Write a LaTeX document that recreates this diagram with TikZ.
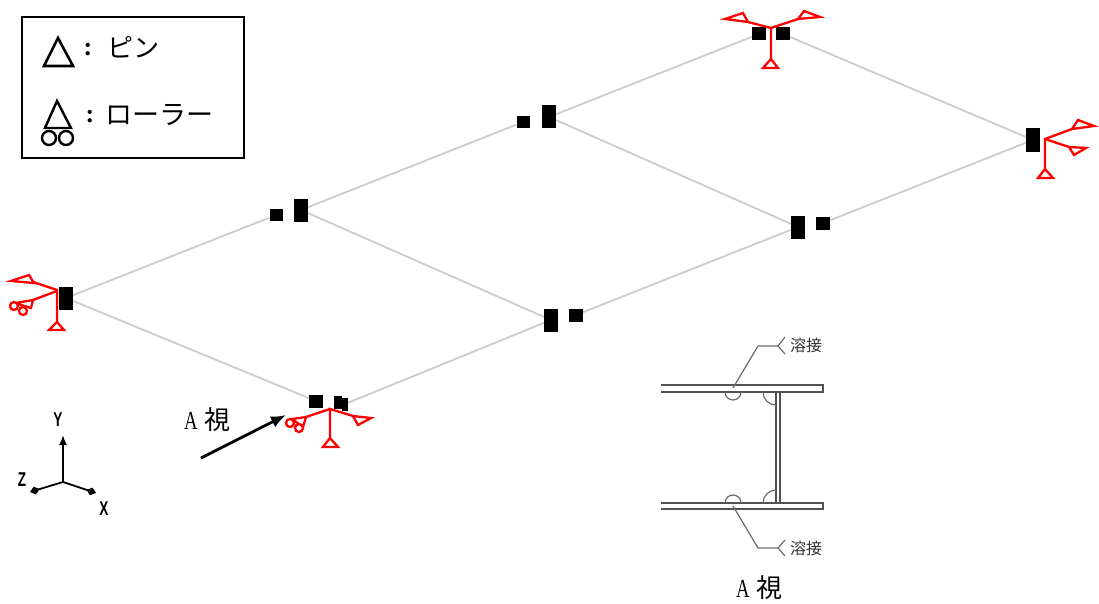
\documentclass[tikz,border=0pt]{standalone}
\usepackage{fontspec}
\setmainfont{Liberation Serif}
\newfontfamily\cjk{Noto Sans CJK JP}
\newfontfamily\narrowrm[FakeStretch=0.72]{Liberation Serif}
\newfontfamily\axisf[FakeStretch=0.68]{Liberation Sans}
\usetikzlibrary{arrows.meta}
\tikzset{
  blk/.style={fill=black,draw=none,inner sep=0,minimum width=14pt,minimum height=13pt,rectangle},
  tall/.style={blk,minimum height=23pt},
  beam/.style={draw=black!20,line width=1.8pt},
  sup/.style={draw=red,line width=2.3pt,line join=miter,fill=none},
  leg/.style={draw=black,line width=2.6pt,line join=miter},
  sect/.style={draw=black!68,line width=1.5pt},
  lead/.style={draw=black!58,line width=1.2pt},
  axisline/.style={draw=black,line width=1.8pt},
  txt/.style={inner sep=0,font=\cjk\fontsize{26}{26}\selectfont},
  weldtxt/.style={inner sep=0,font=\cjk\fontsize{16}{16}\selectfont,text=black!80},
  axl/.style={inner sep=0,font=\axisf\bfseries\fontsize{20}{20}\selectfont},
}
\begin{document}
\begin{tikzpicture}[x=1pt,y=-1pt]
\useasboundingbox (0,0) rectangle (1099,604);
% joints
\node[tall] (j1b) at (66,298) {};
\node[blk,minimum width=13pt,minimum height=12pt] (j2a) at (276,215) {};
\node[tall] (j2b) at (301,210) {};
\node[blk,minimum width=13pt,minimum height=12pt] (j3a) at (523,122) {};
\node[tall] (j3b) at (549,117) {};
\node[blk] (j4a) at (759,34) {};
\node[blk] (j4b) at (783,34) {};
\node[tall,minimum height=24pt] (j5) at (1033,140) {};
\node[tall] (j6a) at (798,227) {};
\node[blk] (j6b) at (823,223) {};
\node[tall] (j7a) at (551,320) {};
\node[blk] (j7b) at (576,315) {};
\node[blk] (j8a) at (316,401) {};
\node[blk,minimum width=8pt] (j8b) at (338,402) {};
\node[blk,minimum width=6pt] (j8c) at (345,404) {};
% beams
\draw[beam] (j1b) -- (j2a);
\draw[beam] (j2b) -- (j3a);
\draw[beam] (j3b) -- (j4a);
\draw[beam] (j4b) -- (j5);
\draw[beam] (j5) -- (j6b);
\draw[beam] (j6a) -- (j7b);
\draw[beam] (j7a) -- (j8c);
\draw[beam] (j8a) -- (j1b);
\draw[beam] (j2b) -- (j7a);
\draw[beam] (j3b) -- (j6a);
% support left
\draw[sup] (57,322) -- (57,290) -- (33,282);
\draw[sup] (57,291) -- (33,300);
\draw[sup] (57,322) -- (64,330) -- (49,330) -- cycle;
\draw[sup] (34,283) -- (11,281) -- (29,275) -- cycle;
\draw[sup] (33,300) -- (31,308) -- (15,303) -- cycle;
\draw[sup,fill=white] (14,306) circle (4);
\draw[sup,fill=white] (23,311) circle (4);
% support bottom
\draw[sup] (330,438) -- (330,409) -- (353,416);
\draw[sup] (330,409) -- (306,417);
\draw[sup] (330,438) -- (338,447) -- (323,447) -- cycle;
\draw[sup] (353,416) -- (371,418) -- (358,425) -- cycle;
\draw[sup] (306,417) -- (303,427) -- (292,419) -- cycle;
\draw[sup,fill=white] (290,423) circle (4);
\draw[sup,fill=white] (299,428) circle (4);
% support top
\draw[sup] (771,59) -- (771,28) -- (748,22);
\draw[sup] (771,28) -- (798,19);
\draw[sup] (771,59) -- (778,68) -- (763,68) -- cycle;
\draw[sup] (748,22) -- (743,13) -- (725,19) -- cycle;
\draw[sup] (798,19) -- (804,11) -- (820,17) -- cycle;
% support right
\draw[sup] (1045,169) -- (1045,139) -- (1072,129);
\draw[sup] (1045,139) -- (1069,147);
\draw[sup] (1045,169) -- (1053,178) -- (1038,178) -- cycle;
\draw[sup] (1072,129) -- (1078,120) -- (1094,126) -- cycle;
\draw[sup] (1069,147) -- (1086,148) -- (1074,155) -- cycle;
% legend
\node[draw=black,line width=2.8pt,minimum width=222pt,minimum height=141pt,inner sep=0] (legend) at (133,87.5) {};
\draw[leg] (58,38) -- (73,66) -- (44,66) -- cycle;
\draw[leg,line width=2.4pt] (57,101) -- (71,128) -- (45,128) -- cycle;
\draw[leg,line width=2.4pt] (49,138) circle (7);
\draw[leg,line width=2.4pt] (66,138) circle (7);
\node[txt,anchor=center] (c1) at (88,50) {\rmfamily\bfseries :};
\node[txt,anchor=center] (c2) at (90,117) {\rmfamily\bfseries :};
\node[txt,anchor=west] (l1) at (107,47) {ピン};
\node[txt,anchor=west,font=\cjk\fontsize{27}{27}\selectfont] (l2) at (105,115) {ローラー};
% axes
\coordinate (o) at (63,482);
\coordinate (ay) at (63,435);
\coordinate (az) at (30,492);
\coordinate (ax) at (96,493);
\draw[axisline,-{Latex[length=10pt,width=8pt]}] (o) -- (ay);
\draw[axisline,-{Diamond[length=10pt,width=8pt]}] (o) -- (az);
\draw[axisline,-{Diamond[length=10pt,width=8pt]}] (o) -- (ax);
\node[axl] (ly) at (58,420) {Y};
\node[axl] (lz) at (22,480) {Z};
\node[axl] (lx) at (104,509) {X};
% A view arrow
\node[txt,anchor=west] (av) at (184,420) {{\narrowrm A}\hspace{7pt}視};
\coordinate (as) at (201,458);
\coordinate (ae) at (286,415);
\draw[draw=black,line width=2.8pt,-{Latex[length=15pt,width=12pt]}] (as) -- (ae);
% section
\draw[sect] (661,385) -- (823,385) -- (823,392) -- (661,392);
\draw[sect] (661,503) -- (823,503) -- (823,509) -- (661,509);
\draw[sect] (776,392) -- (776,503);
\draw[sect] (780,392) -- (780,503);
\draw[lead] (725,392) arc[start angle=180,end angle=0,radius=8];
\draw[lead] (725,503) arc[start angle=180,end angle=360,radius=8];
\draw[lead] (763,392) arc[start angle=180,end angle=90,radius=13];
\draw[lead] (763,503) arc[start angle=180,end angle=270,radius=13];
\node[weldtxt] (w1) at (806,345) {溶接};
\node[weldtxt] (w2) at (806,548) {溶接};
\coordinate (p1) at (733,388);
\coordinate (p2) at (733,506);
\draw[lead] (p1) -- (758,346) -- (778,346) -- (785,337);
\draw[lead] (778,346) -- (785,354);
\draw[lead] (p2) -- (758,548) -- (778,548) -- (785,540);
\draw[lead] (778,548) -- (785,556);
\node[txt,anchor=west] (av2) at (736,588) {{\narrowrm A}\hspace{7pt}視};
\end{tikzpicture}
\end{document}
